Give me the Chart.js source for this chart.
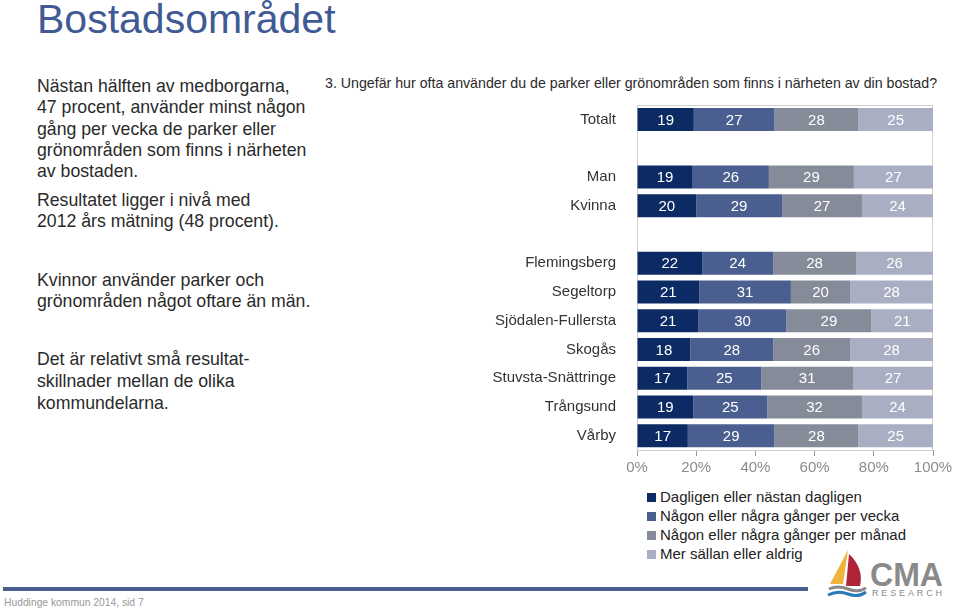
<!DOCTYPE html>
<html>
<head>
<meta charset="utf-8">
<script src="https://cdn.jsdelivr.net/npm/chart.js@4"></script>
<style>
  body { margin: 0; width: 959px; height: 612px; background: #fff; position: relative; overflow: hidden;
         font-family: 'Liberation Sans', Arial, sans-serif; }
  .abs { position: absolute; white-space: nowrap; }
  #title { left: 37px; top: -1px; font-size: 41px; line-height: 41px; color: #3f5a94; }
  .para { left: 37px; font-size: 17.7px; line-height: 21.3px; color: #2a2a2a; }
  #qtitle { left: 325px; top: 75px; font-size: 14.2px; line-height: 17px; color: #2a2a2a; }
  #legend { left: 647px; top: 487px; font-size: 15px; line-height: 19px; color: #222; }
  #legend div { position: relative; padding-left: 13px; }
  #legend span { position: absolute; left: 0; top: 6px; width: 9px; height: 9px; }
  #footbar { left: 3px; top: 587px; width: 805px; height: 4px; background: #4a5f8f; }
  #foot { left: 4px; top: 597px; font-size: 10.3px; color: #999; }
  #chartCanvas { position: absolute; left: 480px; top: 100px; }
</style>
</head>
<body>
<div id="title" class="abs">Bostadsområdet</div>
<div class="abs para" style="top:76px">Nästan hälften av medborgarna,<br>47 procent, använder minst någon<br>gång per vecka de parker eller<br>grönområden som finns i närheten<br>av bostaden.</div>
<div class="abs para" style="top:190px">Resultatet ligger i nivå med<br>2012 års mätning (48 procent).</div>
<div class="abs para" style="top:270px">Kvinnor använder parker och<br>grönområden något oftare än män.</div>
<div class="abs para" style="top:348px;line-height:22px">Det är relativt små resultat-<br>skillnader mellan de olika<br>kommundelarna.</div>
<div id="qtitle" class="abs">3. Ungefär hur ofta använder du de parker eller grönområden som finns i närheten av din bostad?</div>
<canvas id="chartCanvas" width="479" height="380"></canvas>
<div id="legend" class="abs"></div>
<div id="footbar" class="abs"></div>
<div id="foot" class="abs">Huddinge kommun 2014, sid 7</div>
<svg class="abs" style="left:826px;top:548px" width="125" height="52" viewBox="0 0 125 52">
  <path d="M22 2 L4 36 L17 36 Z" fill="#f0b43c"/>
  <path d="M23 6 Q38 20 34 38 L20 38 Z" fill="#b0243a"/>
  <path d="M3 41 Q12 37 22 41 T40 40" stroke="#8a8a8a" stroke-width="3" fill="none"/>
  <path d="M2 47 Q12 42 22 46 T40 44" stroke="#2a7ab8" stroke-width="3" fill="none"/>
  <text x="44" y="38" font-family="'Liberation Sans', Arial, sans-serif" font-weight="bold" font-size="34" fill="#8a8a8a" textLength="73" lengthAdjust="spacingAndGlyphs">CMA</text>
  <text x="46" y="48" font-family="'Liberation Sans', Arial, sans-serif" font-size="9" fill="#8a8a8a" textLength="70" lengthAdjust="spacing">RESEARCH</text>
</svg>
<script>
const categories = ['Totalt', '', 'Man', 'Kvinna', '', 'Flemingsberg', 'Segeltorp', 'Sjödalen-Fullersta', 'Skogås', 'Stuvsta-Snättringe', 'Trångsund', 'Vårby'];
const daily   = [19, null, 19, 20, null, 22, 21, 21, 18, 17, 19, 17];
const weekly  = [27, null, 26, 29, null, 24, 31, 30, 28, 25, 25, 29];
const monthly = [28, null, 29, 27, null, 28, 20, 29, 26, 31, 32, 28];
const rarely  = [25, null, 27, 24, null, 26, 28, 21, 28, 27, 24, 25];
const seriesNames = ['Dagligen eller nästan dagligen', 'Någon eller några gånger per vecka', 'Någon eller några gånger per månad', 'Mer sällan eller aldrig'];
const seriesColors = ['#0c2a63', '#4a5f8f', '#858b99', '#a9aec2'];

const allSeries = [daily, weekly, monthly, rarely];

// rounded values don't always sum to 100, bars are drawn as shares of the row total
const rowTotals = categories.map((c, i) => allSeries.reduce((s, arr) => s + (arr[i] || 0), 0));

Chart.defaults.font.family = "'Liberation Sans', Arial, sans-serif";
Chart.defaults.font.size = 15;

const barLabels = {
    id: 'barLabels',
    afterDatasetsDraw(chart) {
        const ctx = chart.ctx;
        ctx.save();
        ctx.fillStyle = '#fff';
        ctx.font = "15px 'Liberation Sans', Arial, sans-serif";
        ctx.textAlign = 'center';
        ctx.textBaseline = 'middle';
        chart.data.datasets.forEach((ds, di) => {
            chart.getDatasetMeta(di).data.forEach((bar, i) => {
                const v = allSeries[di][i];
                if (v == null) return;
                const p = bar.getProps(['x', 'y', 'base'], true);
                ctx.fillText(String(v), (p.x + p.base) / 2, p.y + 1);
            });
        });
        ctx.restore();
    }
};

const plotFrame = {
    id: 'plotFrame',
    beforeDatasetsDraw(chart) {
        const a = chart.chartArea;
        const ctx = chart.ctx;
        ctx.save();
        ctx.strokeStyle = '#d0d0d0';
        ctx.lineWidth = 1;
        ctx.strokeRect(a.left + 0.5, a.top + 0.5, a.right - a.left - 1, a.bottom - a.top);
        ctx.restore();
    }
};

new Chart(document.getElementById('chartCanvas'), {
    type: 'bar',
    data: {
        labels: categories,
        datasets: allSeries.map((arr, k) => ({
            label: seriesNames[k],
            data: arr.map((v, i) => v == null ? null : v / rowTotals[i] * 100),
            backgroundColor: seriesColors[k],
            borderWidth: 0,
            barPercentage: 0.8,
            categoryPercentage: 1
        }))
    },
    options: {
        indexAxis: 'y',
        responsive: false,
        animation: false,
        layout: { padding: { top: 5, right: 26, bottom: 0, left: 0 } },
        plugins: { legend: { display: false }, tooltip: { enabled: false } },
        scales: {
            x: {
                stacked: true,
                min: 0,
                max: 100,
                afterFit: (scale) => { scale.height = 30; },
                ticks: { stepSize: 20, padding: 3, color: '#8c8c8c', callback: v => v + '%' },
                grid: { drawOnChartArea: false, drawTicks: true, tickLength: 6, color: '#9a9a9a' },
                border: { display: true, color: '#9a9a9a' }
            },
            y: {
                stacked: true,
                afterFit: (scale) => {
                    scale.width = 157;
                    // tick padding would otherwise push the plot area down
                    scale.paddingTop = 0;
                    scale.paddingBottom = 0;
                },
                ticks: { padding: 21, color: '#333' },
                grid: { drawOnChartArea: false, drawTicks: false },
                border: { display: true, color: '#9a9a9a' }
            }
        }
    },
    plugins: [barLabels, plotFrame]
});

// legend as a plain list, like in the report
const legendEl = document.getElementById('legend');
seriesNames.forEach((name, k) => {
    const row = document.createElement('div');
    row.innerHTML = '<span style="background:' + seriesColors[k] + '"></span>' + name;
    legendEl.appendChild(row);
});
</script>
</body>
</html>
